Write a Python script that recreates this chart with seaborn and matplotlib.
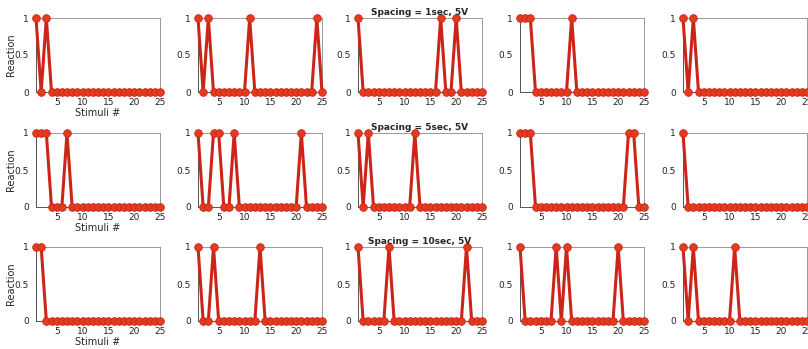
import numpy as np
import pandas as pd
import matplotlib
matplotlib.use("Agg")
import matplotlib.pyplot as plt
import seaborn as sns

sns.set_theme(style="white")
plt.rcParams['font.family'] = ['DejaVu Sans']

stimuli = list(range(1, 26))

# Stimulus indices that produced a reaction (value 1); all others are 0
row1_peaks = [[1, 3], [1, 3, 11, 24], [1, 17, 20], [1, 2, 3, 11], [1, 3]]
row2_peaks = [[1, 2, 3, 7], [1, 4, 5, 8, 21], [1, 3, 12], [1, 2, 3, 22, 23], [1]]
row3_peaks = [[1, 2], [1, 4, 13], [1, 7, 22], [1, 8, 10, 20], [1, 3, 11]]

row_titles = ["Spacing = 1sec, 5V", "Spacing = 5sec, 5V", "Spacing = 10sec, 5V"]
x_ticks = [5, 10, 15, 20, 25]
y_ticks = [0, 0.5, 1]
y_ticklabels = ["0", "0.5", "1"]


def to_series(peaks):
    return [1 if s in peaks else 0 for s in stimuli]


W, H = 808, 349
fig = plt.figure(figsize=(W / 100, H / 100), dpi=100)

col_left = [36, 198, 358, 520, 683]
ax_w = 124
row_top = [18, 133, 247]
ax_h = 74

line_color = "#cc2418"
marker_color = "#e23c1e"

for r, peaks_row in enumerate([row1_peaks, row2_peaks, row3_peaks]):
    for c, peaks in enumerate(peaks_row):
        left = col_left[c] / W
        bottom = (H - row_top[r] - ax_h) / H
        ax = fig.add_axes([left, bottom, ax_w / W, ax_h / H])
        df = pd.DataFrame({"Stimuli": stimuli, "Reaction": to_series(peaks)})
        sns.lineplot(data=df, x="Stimuli", y="Reaction", ax=ax,
                     color=line_color, linewidth=2.2, marker="o",
                     markersize=5.5, markerfacecolor=marker_color,
                     markeredgecolor=line_color, markeredgewidth=0.6,
                     clip_on=False, zorder=3)
        ax.set_xlim(1, 25)
        ax.set_ylim(0, 1)
        ax.set_xticks(x_ticks)
        ax.set_yticks(y_ticks)
        ax.set_yticklabels(y_ticklabels)
        ax.tick_params(axis="x", direction="in", length=2, width=0.5,
                       labelsize=6.5, pad=4, colors="#222222")
        ax.tick_params(axis="y", direction="in", length=2, width=0.5,
                       labelsize=6.5, pad=5, colors="#222222")
        for sp in ax.spines.values():
            sp.set_linewidth(0.7)
            sp.set_color("#555555")
        ax.spines["top"].set_color("#999999")
        ax.spines["right"].set_color("#999999")
        if c == 0:
            ax.set_xlabel("Stimuli #", fontsize=7, labelpad=1)
            ax.set_ylabel("Reaction", fontsize=7, labelpad=-1)
        else:
            ax.set_xlabel("")
            ax.set_ylabel("")
        if c == 2:
            ax.set_title(row_titles[r], fontsize=6.5, fontweight="bold", pad=2)

fig.savefig("out.png", dpi=100)
